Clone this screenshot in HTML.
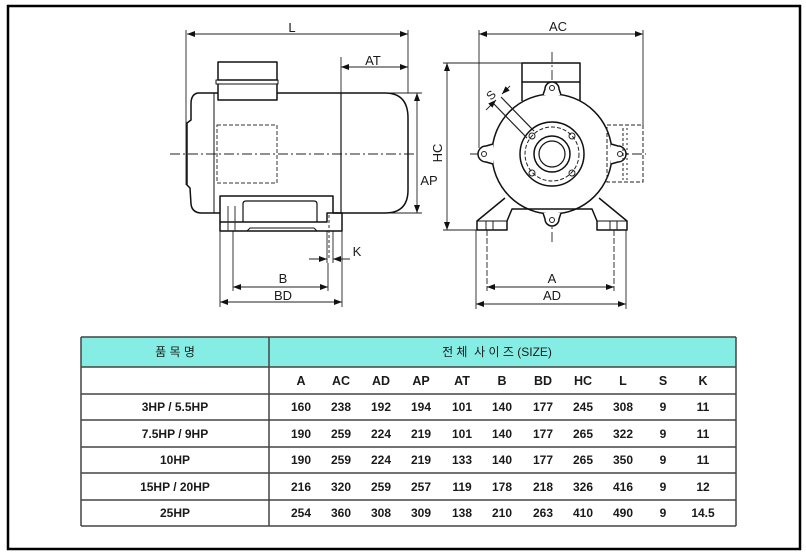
<!DOCTYPE html>
<html><head><meta charset="utf-8">
<style>
html,body{margin:0;padding:0;background:#fff;}
svg{display:block;}
text{font-family:"Liberation Sans","Noto Sans CJK KR",sans-serif;fill:#1a1a1a;}
</style></head>
<body>
<svg width="806" height="557" viewBox="0 0 806 557" xmlns="http://www.w3.org/2000/svg">
<defs>
<marker id="ar" viewBox="0 0 8 6" refX="8" refY="3" markerWidth="8" markerHeight="6" markerUnits="userSpaceOnUse" orient="auto-start-reverse">
<path d="M0,0 L8,3 L0,6 Z" fill="#111"/>
</marker>
</defs>
<rect x="0" y="0" width="806" height="557" fill="#fff"/>
<rect x="8" y="6" width="792" height="543" fill="none" stroke="#000" stroke-width="2.5"/>

<!-- ============ SIDE VIEW ============ -->
<g fill="none" stroke="#222" stroke-width="0.9">
  <line x1="187" y1="34" x2="408" y2="34" marker-start="url(#ar)" marker-end="url(#ar)"/>
  <line x1="186" y1="30" x2="186" y2="185"/>
  <line x1="408" y1="30" x2="408" y2="93"/>
  <line x1="341" y1="67" x2="408" y2="67" marker-start="url(#ar)" marker-end="url(#ar)"/>
  <line x1="341" y1="57" x2="341" y2="93"/>
  <line x1="417" y1="93" x2="417" y2="213" marker-start="url(#ar)" marker-end="url(#ar)"/>
  <line x1="385" y1="93" x2="422" y2="93"/>
  <line x1="385" y1="213" x2="422" y2="213"/>
  <line x1="447" y1="63" x2="447" y2="230" marker-start="url(#ar)" marker-end="url(#ar)"/>
  <line x1="443" y1="63" x2="522" y2="63"/>
  <line x1="443" y1="230" x2="478" y2="230"/>
  <line x1="309" y1="259" x2="327" y2="259" marker-end="url(#ar)"/>
  <line x1="350" y1="259" x2="333" y2="259" marker-end="url(#ar)"/>
  <line x1="327" y1="231" x2="327" y2="263"/>
  <line x1="333" y1="231" x2="333" y2="263"/>
  <line x1="233" y1="287" x2="328" y2="287" marker-start="url(#ar)" marker-end="url(#ar)"/>
  <line x1="220" y1="302" x2="342" y2="302" marker-start="url(#ar)" marker-end="url(#ar)"/>
  <line x1="220" y1="231" x2="220" y2="307"/>
  <line x1="233" y1="231" x2="233" y2="291"/>
  <line x1="328" y1="263" x2="328" y2="291"/>
  <line x1="342" y1="231" x2="342" y2="307"/>
  <line x1="170" y1="154" x2="416" y2="154" stroke-dasharray="10,3,2,3"/>
</g>
<g fill="none" stroke="#111" stroke-width="1.5" stroke-linejoin="round">
  <path d="M218,93 L198,93 Q191,94 191,104 L191,120 L187,123 L187,185 L190,188 L191,204 Q192,213 202,213 L220,213"/>
  <path d="M277,93 L385,93 Q408,93 408,118 L408,190 Q408,213 385,213 L333,213"/>
  <line x1="214" y1="93" x2="214" y2="213" stroke-width="1"/>
  <line x1="341" y1="93" x2="341" y2="213" stroke-width="1.2"/>
  <rect x="218" y="62" width="59" height="18"/>
  <rect x="216" y="80" width="62" height="4" stroke-width="1"/>
  <path d="M218,84 L218,100 L277,100 L277,84"/>
  <path d="M220,222 L220,196 L333,196 L333,213"/>
  <path d="M243,222 L243,204 Q243,201 246,201 L314,201 Q317,201 317,204 L317,222" stroke-width="1.2"/>
  <path d="M220,222 L327,222 L327,213 L342,213 L342,231 L220,231 Z"/>
  <path d="M247,231 L250,228 L314,228 L317,231" stroke-width="1"/>
</g>
<g fill="none" stroke="#333" stroke-width="1">
  <rect x="217" y="125" width="60" height="58" stroke-dasharray="4,2"/>
  <line x1="228" y1="206" x2="228" y2="231"/>
  <line x1="235" y1="206" x2="235" y2="231"/>
  <line x1="329" y1="215" x2="329" y2="258" stroke-dasharray="3,2"/>
</g>

<!-- ============ FRONT VIEW ============ -->
<g fill="none" stroke="#222" stroke-width="0.9">
  <line x1="479" y1="34" x2="643" y2="34" marker-start="url(#ar)" marker-end="url(#ar)"/>
  <line x1="479" y1="30" x2="479" y2="148"/>
  <line x1="643" y1="30" x2="643" y2="125"/>
  <line x1="487" y1="287" x2="614" y2="287" marker-start="url(#ar)" marker-end="url(#ar)"/>
  <line x1="476" y1="304" x2="626" y2="304" marker-start="url(#ar)" marker-end="url(#ar)"/>
  <line x1="476" y1="230" x2="476" y2="309"/>
  <line x1="487" y1="230" x2="487" y2="291" stroke-dasharray="6,2"/>
  <line x1="614" y1="230" x2="614" y2="291" stroke-dasharray="6,2"/>
  <line x1="626" y1="230" x2="626" y2="309"/>
  <line x1="552" y1="52" x2="552" y2="242" stroke-dasharray="10,3,2,3"/>
  <line x1="470" y1="154" x2="646" y2="154" stroke-dasharray="10,3,2,3"/>
  <line x1="486" y1="110" x2="496" y2="100" marker-end="url(#ar)"/>
  <line x1="510" y1="86" x2="502" y2="94" marker-end="url(#ar)"/>
</g>
<g fill="none" stroke="#111" stroke-width="1.5" stroke-linejoin="round">
  <rect x="522" y="63" width="58" height="19"/>
  <path d="M522,82 L522,101 M580,82 L580,101"/>
  <circle cx="552" cy="154" r="60" fill="#fff"/>
  <path d="M493,144 L486,146 A8,8 0 0 0 486,162 L493,164" fill="#fff"/>
  <path d="M611,144 L618,146 A8,8 0 0 1 618,162 L611,164" fill="#fff"/>
  <path d="M543,95 L545,89 A7,7 0 0 1 559,89 L561,95" fill="#fff"/>
  <path d="M543,213 L545,219 A7,7 0 0 0 559,219 L561,213" fill="#fff"/>
  <path d="M505,198 L477,221 L477,230 L507,230 L507,221 L512,209 L592,209 L597,221 L597,230 L627,230 L627,221 L599,198"/>
  <line x1="477" y1="221" x2="507" y2="221" stroke-width="1"/>
  <line x1="597" y1="221" x2="627" y2="221" stroke-width="1"/>
  <circle cx="552" cy="154" r="32"/>
  <circle cx="552" cy="154" r="18"/>
  <circle cx="552" cy="154" r="13" stroke-width="1.2"/>
</g>
<g fill="none" stroke="#222" stroke-width="1">
  <circle cx="484" cy="154" r="2.5"/>
  <circle cx="620" cy="154" r="2.5"/>
  <circle cx="552" cy="88" r="2.5"/>
  <circle cx="552" cy="220" r="2.5"/>
  <circle cx="552" cy="154" r="27" stroke-dasharray="4,2"/>
  <circle cx="532" cy="136" r="3"/>
  <circle cx="572" cy="136" r="3"/>
  <circle cx="532" cy="173" r="3"/>
  <circle cx="572" cy="173" r="3"/>
  <line x1="527" y1="138" x2="494" y2="104" stroke-width="1.2"/>
  <line x1="534" y1="131" x2="501" y2="97" stroke-width="1.2"/>
  <line x1="486" y1="221" x2="486" y2="230"/>
  <line x1="493" y1="221" x2="493" y2="230"/>
  <line x1="610" y1="221" x2="610" y2="230"/>
  <line x1="617" y1="221" x2="617" y2="230"/>
  <rect x="607" y="125" width="36" height="57" stroke-dasharray="4,2"/>
  <line x1="623" y1="128" x2="623" y2="180" stroke-dasharray="3,2"/>
  <line x1="627" y1="128" x2="627" y2="180" stroke-dasharray="2,3"/>
</g>

<g font-size="13">
  <text x="292" y="32" text-anchor="middle">L</text>
  <text x="373" y="65" text-anchor="middle">AT</text>
  <text x="429" y="185" text-anchor="middle">AP</text>
  <text x="0" y="0" text-anchor="middle" transform="translate(442,153) rotate(-90)">HC</text>
  <text x="357" y="256" text-anchor="middle">K</text>
  <text x="283" y="283" text-anchor="middle">B</text>
  <text x="283" y="300" text-anchor="middle">BD</text>
  <text x="558" y="31" text-anchor="middle">AC</text>
  <text x="552" y="283" text-anchor="middle">A</text>
  <text x="552" y="300" text-anchor="middle">AD</text>
  <text x="0" y="0" text-anchor="middle" font-size="12" transform="translate(494,98) rotate(-45)">S</text>
</g>

<!-- ============ TABLE ============ -->
<rect x="81" y="337" width="655" height="30" fill="#86ede5"/>
<g stroke="#444" stroke-width="1.5">
  <line x1="81" y1="337" x2="736" y2="337"/>
  <line x1="81" y1="367" x2="736" y2="367"/>
  <line x1="81" y1="394" x2="736" y2="394"/>
  <line x1="81" y1="420" x2="736" y2="420"/>
  <line x1="81" y1="447" x2="736" y2="447"/>
  <line x1="81" y1="473" x2="736" y2="473"/>
  <line x1="81" y1="500" x2="736" y2="500"/>
  <line x1="81" y1="526" x2="736" y2="526"/>
  <line x1="81" y1="337" x2="81" y2="526"/>
  <line x1="269" y1="337" x2="269" y2="526"/>
  <line x1="736" y1="337" x2="736" y2="526"/>
</g>
<g font-size="12" text-anchor="middle">
  <text x="175" y="356">품 목 명</text>
  <text x="497" y="356">전 체 &#160;사 이 즈 (SIZE)</text>
</g>
<g font-size="12.5" font-weight="bold" text-anchor="middle">
  <text x="301" y="385">A</text><text x="341" y="385">AC</text><text x="381" y="385">AD</text><text x="421" y="385">AP</text><text x="462" y="385">AT</text><text x="502" y="385">B</text><text x="543" y="385">BD</text><text x="583" y="385">HC</text><text x="623" y="385">L</text><text x="663" y="385">S</text><text x="703" y="385">K</text>
</g>
<g font-size="12" font-weight="bold" text-anchor="middle" fill="#222">
  <text x="175" y="411">3HP / 5.5HP</text>
  <text x="301" y="411">160</text><text x="341" y="411">238</text><text x="381" y="411">192</text><text x="421" y="411">194</text><text x="462" y="411">101</text><text x="502" y="411">140</text><text x="543" y="411">177</text><text x="583" y="411">245</text><text x="623" y="411">308</text><text x="663" y="411">9</text><text x="703" y="411">11</text>

  <text x="175" y="438">7.5HP / 9HP</text>
  <text x="301" y="438">190</text><text x="341" y="438">259</text><text x="381" y="438">224</text><text x="421" y="438">219</text><text x="462" y="438">101</text><text x="502" y="438">140</text><text x="543" y="438">177</text><text x="583" y="438">265</text><text x="623" y="438">322</text><text x="663" y="438">9</text><text x="703" y="438">11</text>

  <text x="175" y="464">10HP</text>
  <text x="301" y="464">190</text><text x="341" y="464">259</text><text x="381" y="464">224</text><text x="421" y="464">219</text><text x="462" y="464">133</text><text x="502" y="464">140</text><text x="543" y="464">177</text><text x="583" y="464">265</text><text x="623" y="464">350</text><text x="663" y="464">9</text><text x="703" y="464">11</text>

  <text x="175" y="491">15HP / 20HP</text>
  <text x="301" y="491">216</text><text x="341" y="491">320</text><text x="381" y="491">259</text><text x="421" y="491">257</text><text x="462" y="491">119</text><text x="502" y="491">178</text><text x="543" y="491">218</text><text x="583" y="491">326</text><text x="623" y="491">416</text><text x="663" y="491">9</text><text x="703" y="491">12</text>

  <text x="175" y="517">25HP</text>
  <text x="301" y="517">254</text><text x="341" y="517">360</text><text x="381" y="517">308</text><text x="421" y="517">309</text><text x="462" y="517">138</text><text x="502" y="517">210</text><text x="543" y="517">263</text><text x="583" y="517">410</text><text x="623" y="517">490</text><text x="663" y="517">9</text><text x="703" y="517">14.5</text>
</g>
</svg>
</body></html>
